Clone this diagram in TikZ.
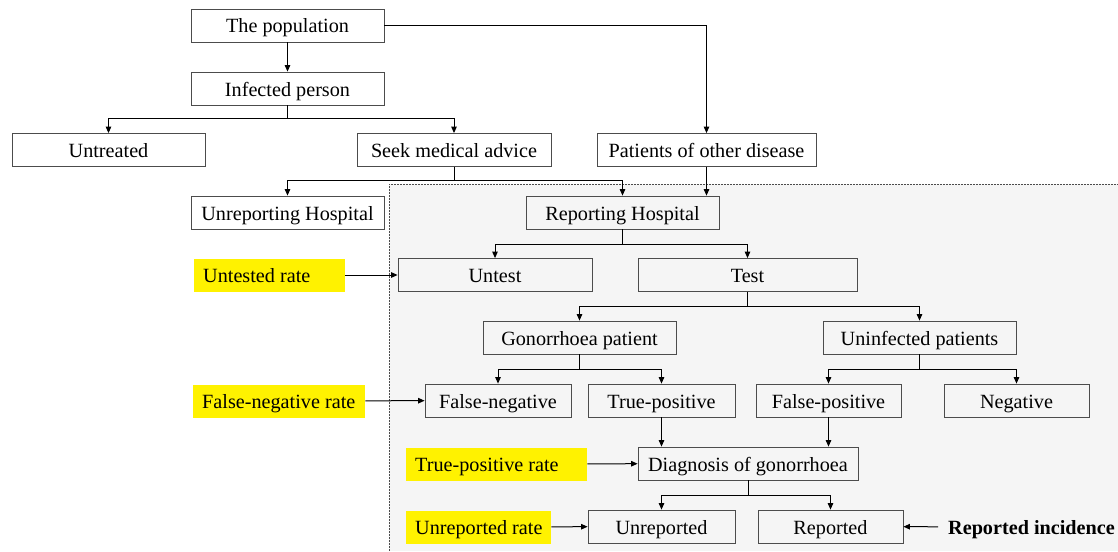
\documentclass[tikz,border=0pt]{standalone}
\usepackage{fontspec}
\setmainfont{Liberation Serif}
\usepackage{tikz}
\usetikzlibrary{arrows.meta}

\begin{document}
\begin{tikzpicture}[x=1pt,y=-1pt,
    box/.style={draw=black!70, line width=0.8pt, minimum height=33pt, inner sep=0pt, text height=19pt, text depth=4pt, font=\fontsize{20.2}{24}\selectfont},
    rate/.style={fill=yellow, minimum height=33pt, inner xsep=9pt, inner ysep=0pt, text height=19pt, text depth=4pt, anchor=west, font=\fontsize{20.2}{24}\selectfont},
    link/.style={line width=1pt, -{Triangle[length=6.5pt,width=5.5pt]}}]
    \useasboundingbox (0,0) rectangle (1118,551);

    % reporting area
    \fill[black!4] (389,184) rectangle (1118,551);
    \draw[black!70, line width=0.6pt, dash pattern=on 2pt off 1pt] (389,551) -- (389,184) -- (1118,184);

    \node[box, minimum width=193pt] (pop) at (287.5,25.5) {The population};
    \node[box, minimum width=193pt] (infected) at (287.5,88.5) {Infected person};
    \node[box, minimum width=193pt] (untreated) at (108.5,150) {Untreated};
    \node[box, minimum width=194pt] (seek) at (454,150) {Seek medical advice};
    \node[box, minimum width=219pt] (other) at (706.5,150) {Patients of other disease};
    \node[box, minimum width=193pt] (unrephosp) at (287.5,212.5) {Unreporting Hospital};
    \node[box, minimum width=193pt] (rephosp) at (622.5,212.5) {Reporting Hospital};
    \node[box, minimum width=194pt] (untest) at (495,275) {Untest};
    \node[box, minimum width=219pt] (test) at (747.5,275) {Test};
    \node[box, minimum width=193pt] (gonpat) at (579.5,337.5) {Gonorrhoea patient};
    \node[box, minimum width=193pt] (uninf) at (919.5,337.5) {Uninfected patients};
    \node[box, minimum width=146pt] (falseneg) at (498,400.5) {False-negative};
    \node[box, minimum width=147pt] (truepos) at (661.5,400.5) {True-positive};
    \node[box, minimum width=145pt] (falsepos) at (828.5,400.5) {False-positive};
    \node[box, minimum width=145pt] (negative) at (1016.5,400.5) {Negative};
    \node[box, minimum width=220pt] (diag) at (748,463.5) {Diagnosis of gonorrhoea};
    \node[box, minimum width=147pt] (unrep) at (661.5,526.5) {Unreported};
    \node[box, minimum width=145pt] (rep) at (830.5,526.5) {Reported};

    % rates
    \node[rate] (untestrate) at (194,275) {\makebox[133pt][l]{Untested rate}};
    \node[rate] (fnrate) at (193,401) {\makebox[154pt][l]{False-negative rate}};
    \node[rate] (tprate) at (406,464) {\makebox[163pt][l]{True-positive rate}};
    \node[rate] (unreprate) at (406,527) {\makebox[127pt][l]{Unreported rate}};
    \node[anchor=west, inner xsep=10pt, inner ysep=0pt, text height=19pt, text depth=4pt, font=\fontsize{20.2}{24}\selectfont\bfseries] (incidence) at (938,527) {Reported incidence};

    \draw[link] (pop) -- (infected);
    \draw[link] (pop.east) -| (other.north);
    \draw[link] (infected.south) -- ++(0,13) -| (untreated.north);
    \draw[link] (infected.south) -- ++(0,13) -| (seek.north);
    \draw[link] (seek.south) -- ++(0,14) -| (unrephosp.north);
    \draw[link] (seek.south) -- ++(0,14) -| (rephosp.north);
    \draw[link] (other.south) -- (other.south |- rephosp.north);
    \draw[link] (rephosp.south) -- ++(0,15) -| (untest.north);
    \draw[link] (rephosp.south) -- ++(0,15) -| (test.north);
    \draw[link] (test.south) -- ++(0,15) -| (gonpat.north);
    \draw[link] (test.south) -- ++(0,15) -| (uninf.north);
    \draw[link] (gonpat.south) -- ++(0,15) -| (falseneg.north);
    \draw[link] (gonpat.south) -- ++(0,15) -| (truepos.north);
    \draw[link] (uninf.south) -- ++(0,15) -| (falsepos.north);
    \draw[link] (uninf.south) -- ++(0,15) -| (negative.north);
    \draw[link] (truepos.south) -- (truepos.south |- diag.north);
    \draw[link] (falsepos.south) -- (falsepos.south |- diag.north);
    \draw[link] (diag.south) -- ++(0,15) -| (unrep.north);
    \draw[link] (diag.south) -- ++(0,15) -| (rep.north);

    \draw[link] (untestrate) -- (untest);
    \draw[link] (fnrate) -- (falseneg);
    \draw[link] (tprate) -- (diag);
    \draw[link] (unreprate) -- (unrep);
    \draw[link] (incidence) -- (rep);
\end{tikzpicture}
\end{document}
